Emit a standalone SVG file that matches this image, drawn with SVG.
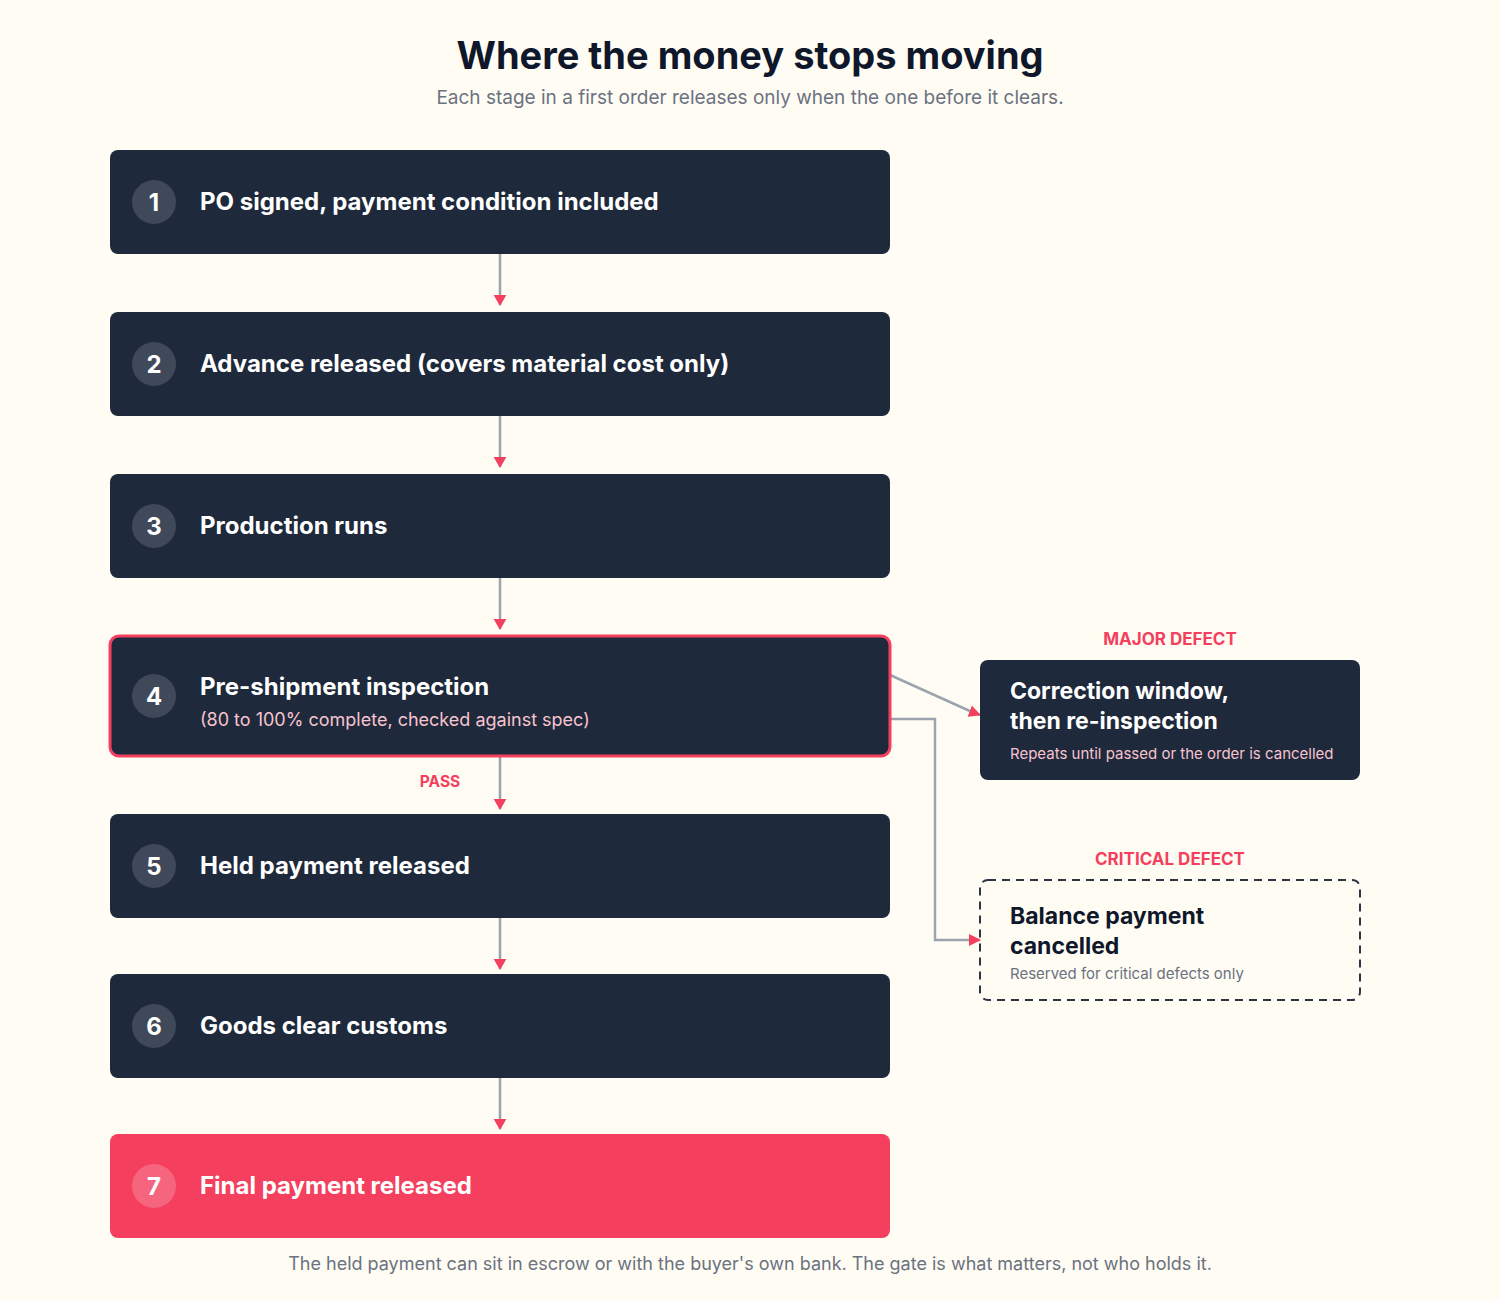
<svg xmlns="http://www.w3.org/2000/svg" width="1500" height="1300" viewBox="0 0 1500 1300">
<defs>
<style>
.t{font-family:Inter,"Noto Sans","Liberation Sans",sans-serif}
.title{font-size:38px;font-weight:700;fill:#0f172a}
.sub{font-size:19px;fill:#6b7280}
.box{fill:#1e293b}
.num{fill:#3f4959}
.numt{font-size:24px;font-weight:700;fill:#ffffff}
.lbl{font-size:24px;font-weight:700;fill:#ffffff}
.small{font-size:18px;fill:#f7c4cf}
.side{font-size:23px;font-weight:700;fill:#ffffff}
.sidesub{font-size:15px;fill:#f7c4cf}
.tag{font-size:17px;font-weight:700;fill:#f43f5e}
.conn{fill:none;stroke:#9ca3af;stroke-width:2.5}
.foot{font-size:18px;fill:#6b7280}
</style>
<marker id="ah" viewBox="0 0 12 12" refX="11" refY="6" markerWidth="12" markerHeight="12" markerUnits="userSpaceOnUse" orient="auto">
<path d="M0 0 L12 6 L0 12 Z" fill="#f43f5e"/>
</marker>
<marker id="av" viewBox="0 0 12 14" refX="11" refY="7" markerWidth="11" markerHeight="14" markerUnits="userSpaceOnUse" orient="auto">
<path d="M0 0 L12 7 L0 14 Z" fill="#f43f5e"/>
</marker>
</defs>
<rect width="1500" height="1300" fill="#fffcf4"/>
<text class="t title" x="750" y="69" text-anchor="middle">Where the money stops moving</text>
<text class="t sub" x="750" y="104" text-anchor="middle">Each stage in a first order releases only when the one before it clears.</text>

<g id="connectors">
<path class="conn" d="M500 254 V305" marker-end="url(#av)"/>
<path class="conn" d="M500 416 V467" marker-end="url(#av)"/>
<path class="conn" d="M500 578 V629" marker-end="url(#av)"/>
<path class="conn" d="M500 756 V809" marker-end="url(#av)"/>
<path class="conn" d="M500 918 V969" marker-end="url(#av)"/>
<path class="conn" d="M500 1078 V1129" marker-end="url(#av)"/>
<path class="conn" d="M890 675 L972 712 L980 715" marker-end="url(#ah)"/>
<path class="conn" d="M890 719 H935 V940 H980" marker-end="url(#ah)"/>
<text class="t tag" x="440" y="787" text-anchor="middle" style="font-size:15.5px">PASS</text>
<text class="t tag" x="1170" y="645" text-anchor="middle">MAJOR DEFECT</text>
<text class="t tag" x="1170" y="865" text-anchor="middle">CRITICAL DEFECT</text>
</g>

<g id="node1">
<rect class="box" x="110" y="150" width="780" height="104" rx="8"/>
<circle class="num" cx="154" cy="202" r="22"/>
<text class="t numt" x="154" y="210.5" text-anchor="middle">1</text>
<text class="t lbl" x="200" y="210">PO signed, payment condition included</text>
</g>
<g id="node2">
<rect class="box" x="110" y="312" width="780" height="104" rx="8"/>
<circle class="num" cx="154" cy="364" r="22"/>
<text class="t numt" x="154" y="372.5" text-anchor="middle">2</text>
<text class="t lbl" x="200" y="372">Advance released (covers material cost only)</text>
</g>
<g id="node3">
<rect class="box" x="110" y="474" width="780" height="104" rx="8"/>
<circle class="num" cx="154" cy="526" r="22"/>
<text class="t numt" x="154" y="534.5" text-anchor="middle">3</text>
<text class="t lbl" x="200" y="534">Production runs</text>
</g>
<g id="node4">
<rect class="box" x="110" y="636" width="780" height="120" rx="9" stroke="#f43f5e" stroke-width="3"/>
<circle class="num" cx="154" cy="696" r="22"/>
<text class="t numt" x="154" y="704.5" text-anchor="middle">4</text>
<text class="t lbl" x="200" y="695">Pre-shipment inspection</text>
<text class="t small" x="200" y="726">(80 to 100% complete, checked against spec)</text>
</g>
<g id="node5">
<rect class="box" x="110" y="814" width="780" height="104" rx="8"/>
<circle class="num" cx="154" cy="866" r="22"/>
<text class="t numt" x="154" y="874.5" text-anchor="middle">5</text>
<text class="t lbl" x="200" y="874">Held payment released</text>
</g>
<g id="node6">
<rect class="box" x="110" y="974" width="780" height="104" rx="8"/>
<circle class="num" cx="154" cy="1026" r="22"/>
<text class="t numt" x="154" y="1034.5" text-anchor="middle">6</text>
<text class="t lbl" x="200" y="1034">Goods clear customs</text>
</g>
<g id="node7">
<rect x="110" y="1134" width="780" height="104" rx="8" fill="#f43f5e"/>
<circle cx="154" cy="1186" r="22" fill="#ffffff" fill-opacity="0.2"/>
<text class="t numt" x="154" y="1194.5" text-anchor="middle">7</text>
<text class="t lbl" x="200" y="1194">Final payment released</text>
</g>
<g id="correction">
<rect class="box" x="980" y="660" width="380" height="120" rx="8"/>
<text class="t side" x="1010" y="699">Correction window,</text>
<text class="t side" x="1010" y="729">then re-inspection</text>
<text class="t sidesub" x="1010" y="759">Repeats until passed or the order is cancelled</text>
</g>
<g id="balance">
<rect x="980" y="880" width="380" height="120" rx="8" fill="none" stroke="#2b3445" stroke-width="2" stroke-dasharray="8 6"/>
<text class="t side" x="1010" y="924" style="fill:#0f172a">Balance payment</text>
<text class="t side" x="1010" y="954" style="fill:#0f172a">cancelled</text>
<text class="t sidesub" x="1010" y="979" style="fill:#6b7280">Reserved for critical defects only</text>
</g>
<text class="t foot" x="750" y="1270" text-anchor="middle">The held payment can sit in escrow or with the buyer's own bank. The gate is what matters, not who holds it.</text>
</svg>
